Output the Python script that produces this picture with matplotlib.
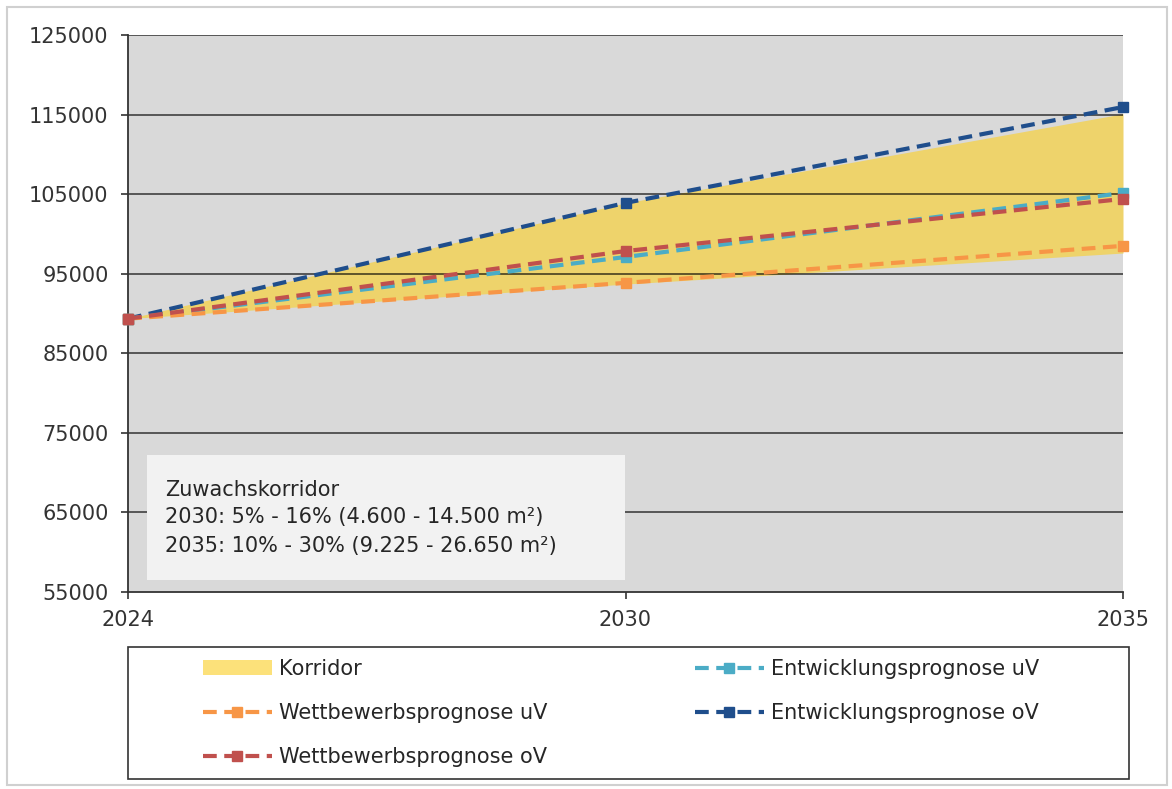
import matplotlib
matplotlib.use("Agg")
import matplotlib.pyplot as plt
from matplotlib.patches import Rectangle

# ---- data ----
years = ["2024", "2030", "2035"]
yticks = [55000, 65000, 75000, 85000, 95000, 105000, 115000, 125000]
corridor_low = [89350, 93700, 97600]
corridor_high = [89350, 103900, 115100]
wett_uv = [89350, 93850, 98500]
wett_ov = [89350, 97850, 104400]
entw_uv = [89350, 97100, 105150]
entw_ov = [89350, 103900, 115950]
box_lines = ["Zuwachskorridor",
             "2030: 5% - 16% (4.600 - 14.500 m²)",
             "2035: 10% - 30% (9.225 - 26.650 m²)"]

plt.rcParams['font.family'] = ['DejaVu Sans']

W, H = 1172, 789
fig = plt.figure(figsize=(W / 100, H / 100), dpi=100)
ax = fig.add_axes([128 / W, 1 - 592 / H, 995 / W, 557 / H])
ax.set_facecolor('#D9D9D9')

x = list(range(len(years)))
ax.fill_between(x, corridor_low, corridor_high, color='#EED36B', zorder=1, linewidth=0,
                label='Korridor')
for yv in yticks[1:]:
    ax.axhline(yv, color='black', alpha=0.65, lw=1.3, zorder=2)

dash = (3.3, 1.8)
series = [
    (entw_ov, '#1F4E8C', 'Entwicklungsprognose oV'),
    (entw_uv, '#4BACC6', 'Entwicklungsprognose uV'),
    (wett_uv, '#F79646', 'Wettbewerbsprognose uV'),
    (wett_ov, '#C0504D', 'Wettbewerbsprognose oV'),
]
handles = {}
for vals, col, lab in series:
    ln, = ax.plot(x, vals, color=col, lw=3, dashes=dash, marker='s', markersize=7,
                  zorder=3, clip_on=False, label=lab)
    handles[lab] = ln

ax.set_xlim(0, 2)
ax.set_ylim(55000, 125000)
ax.set_xticks(x)
ax.set_xticklabels(years)
ax.set_yticks(yticks)
ax.set_yticklabels([str(v) for v in yticks])
ax.tick_params(axis='both', labelsize=15, colors='#333333', length=5, width=1.2)
ax.tick_params(axis='y', pad=9)
ax.tick_params(axis='x', pad=8)
for s in ['top', 'right']:
    ax.spines[s].set_visible(False)
for s in ['left', 'bottom']:
    ax.spines[s].set_color('#333333')
    ax.spines[s].set_linewidth(1.3)

# info box
ax.add_patch(Rectangle((19 / 995, 12 / 557), 478 / 995, 125 / 557, transform=ax.transAxes,
                       facecolor='#F2F2F2', edgecolor='none', zorder=4))
for line, yp in zip(box_lines, [490, 517, 546]):
    ax.text(37 / 995, (592 - yp) / 557, line, transform=ax.transAxes, fontsize=15,
            color='#262626', va='center', ha='left', zorder=5)

# legend frame
fig.patches.append(Rectangle((128 / W, 1 - 779 / H), 1001 / W, 132 / H, transform=fig.transFigure,
                             facecolor='white', edgecolor='#333333', lw=1.2, zorder=0))
# outer border
fig.patches.append(Rectangle((7 / W, 4 / H), 1160 / W, 778 / H, transform=fig.transFigure,
                             facecolor='none', edgecolor='#D0D0D0', lw=1.5, zorder=0))

corr_handle = Rectangle((0, 0), 1, 1, facecolor='#FCE17A', edgecolor='none')
leg_kw = dict(frameon=False, fontsize=15, handlelength=3.3, handletextpad=0.35,
              labelspacing=1.15, borderpad=0, borderaxespad=0, loc='upper left')
leg1 = fig.legend([corr_handle, handles['Wettbewerbsprognose uV'], handles['Wettbewerbsprognose oV']],
                  ['Korridor', 'Wettbewerbsprognose uV', 'Wettbewerbsprognose oV'],
                  bbox_to_anchor=(203 / W, 1 - 659 / H), **leg_kw)
leg2 = fig.legend([handles['Entwicklungsprognose uV'], handles['Entwicklungsprognose oV']],
                  ['Entwicklungsprognose uV', 'Entwicklungsprognose oV'],
                  bbox_to_anchor=(695 / W, 1 - 659 / H), **leg_kw)
for lg in (leg1, leg2):
    for t in lg.get_texts():
        t.set_color('#262626')

fig.savefig('out.png', dpi=100, facecolor='white')
